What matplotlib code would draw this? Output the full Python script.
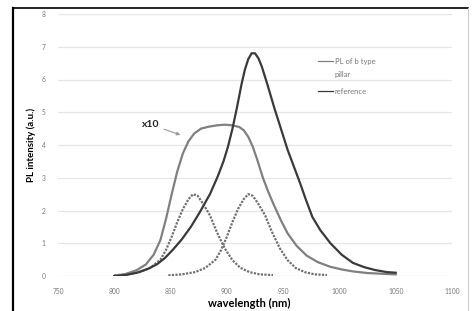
import matplotlib.pyplot as plt

plt.rcParams['font.family'] = ['Lato', 'DejaVu Sans']

# reference (solid, dark)
ref_nm = [800, 810, 820, 830, 838, 845, 852, 860, 868, 876, 885, 892, 897, 901,
          905, 909, 913, 916, 919, 922, 925, 928, 931, 936, 942, 948, 954, 960,
          965, 970, 976, 983, 992, 1002, 1012, 1022, 1032, 1042, 1050]
ref_val = [0.0, 0.03, 0.1, 0.22, 0.36, 0.55, 0.8, 1.12, 1.5, 1.95, 2.5, 3.05, 3.5, 3.95,
           4.5, 5.15, 5.85, 6.3, 6.62, 6.8, 6.8, 6.65, 6.4, 5.85, 5.15, 4.5, 3.85, 3.3,
           2.84, 2.35, 1.8, 1.4, 1.0, 0.65, 0.4, 0.27, 0.18, 0.12, 0.1]

# PL of b type pillar (x10, solid gray)
pl_nm = [800, 810, 820, 828, 835, 841, 846, 851, 856, 861, 866, 871, 877, 884,
         891, 898, 905, 911, 915, 919, 923, 927, 932, 937, 942, 948, 954, 962,
         971, 981, 992, 1002, 1012, 1025, 1037, 1050]
pl_val = [0.0, 0.06, 0.18, 0.35, 0.65, 1.1, 1.75, 2.5, 3.2, 3.75, 4.12, 4.35, 4.5, 4.56,
          4.6, 4.62, 4.6, 4.55, 4.45, 4.25, 3.95, 3.55, 3.0, 2.55, 2.15, 1.7, 1.3, 0.92,
          0.62, 0.42, 0.28, 0.2, 0.14, 0.09, 0.07, 0.05]

# fitted peaks (dotted)
g1_nm = [800, 812, 823, 832, 841, 846, 851, 856, 861, 866, 870, 874, 879, 885,
         891, 898, 905, 912, 920, 929, 941]
g1_val = [0.02, 0.05, 0.12, 0.25, 0.5, 0.8, 1.2, 1.65, 2.05, 2.35, 2.5, 2.45, 2.2, 1.85,
          1.35, 0.85, 0.48, 0.25, 0.12, 0.05, 0.03]
g2_nm = [848, 860, 872, 881, 890, 895, 900, 905, 910, 915, 919, 923, 928, 934,
         940, 947, 954, 961, 969, 978, 989]
g2_val = [0.02, 0.05, 0.12, 0.25, 0.5, 0.8, 1.2, 1.65, 2.05, 2.35, 2.5, 2.45, 2.2, 1.85,
          1.35, 0.85, 0.48, 0.25, 0.12, 0.05, 0.03]

x_ticks = [750, 800, 850, 900, 950, 1000, 1050, 1100]
y_ticks = [0, 1, 2, 3, 4, 5, 6, 7, 8]

fig = plt.figure(figsize=(4.72, 3.11), dpi=100)
ax = fig.add_axes([58 / 472, 35 / 311, 394 / 472, 262 / 311])

dots = (0, (1, 0.6))
ax.plot(g1_nm, g1_val, color='#707070', linestyle=dots, linewidth=1.6)
ax.plot(g2_nm, g2_val, color='#707070', linestyle=dots, linewidth=1.6)
ax.plot(pl_nm, pl_val, color='#808080', linewidth=1.6)
ax.plot(ref_nm, ref_val, color='#3a3a3a', linewidth=1.6)

ax.set_xlim(750, 1100)
ax.set_ylim(0, 8)
ax.set_xticks(x_ticks)
ax.set_yticks(y_ticks)
ax.tick_params(length=0, labelsize=4.8, labelcolor='#777777', pad=9)
ax.grid(axis='y', color='#e6e6e6', linewidth=0.9)
ax.set_axisbelow(True)
for s in ax.spines.values():
    s.set_visible(False)

ax.set_ylabel('PL intensity (a.u.)', fontsize=7, fontweight='bold', labelpad=4)
ax.set_xlabel('wavelength (nm)', fontsize=8, fontweight='bold')
ax.xaxis.set_label_coords(0.485, -0.085)

# x10 annotation
ax.annotate('x10', xy=(861, 4.28), xytext=(825, 4.62), fontsize=7.5, fontweight='bold',
            color='#222222', va='center',
            arrowprops=dict(arrowstyle='-|>', color='#9a9a9a', lw=0.8,
                            mutation_scale=5, shrinkA=1))

# legend drawn like the original
ax.plot([981, 994], [6.55, 6.55], color='#808080', linewidth=0.9)
ax.text(996, 6.55, 'PL of b type', fontsize=5.5, color='#777777', va='center')
ax.text(996, 6.15, 'pillar', fontsize=5.5, color='#777777', va='center')
ax.plot([981, 994], [5.64, 5.64], color='#3a3a3a', linewidth=0.9)
ax.text(996, 5.64, 'reference', fontsize=5.5, color='#777777', va='center')

# scanned frame
fig.add_artist(plt.Line2D([13 / 472, 13 / 472], [0, 1 - 8 / 311], color='black', lw=1.6))
fig.add_artist(plt.Line2D([13 / 472, 468 / 472], [1 - 8 / 311, 1 - 8 / 311], color='black', lw=1.2))
fig.add_artist(plt.Line2D([468 / 472, 468 / 472], [0, 1 - 8 / 311], color='#cccccc', lw=0.8))

fig.savefig('out.png', dpi=100)
